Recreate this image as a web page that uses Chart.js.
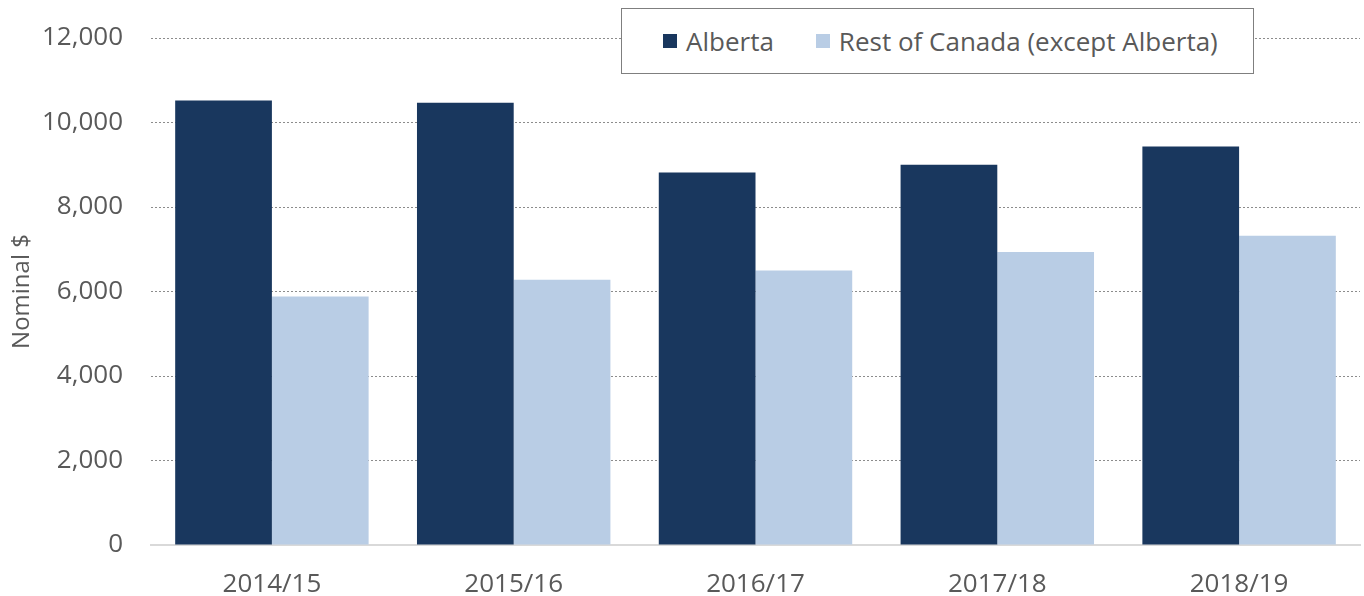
<!DOCTYPE html>
<html>
<head>
<meta charset="utf-8">
<script src="https://cdn.jsdelivr.net/npm/chart.js@4/dist/chart.umd.min.js"></script>
<style>
  html, body { margin: 0; padding: 0; background: #fff; }
  #wrap { position: relative; width: 1364px; height: 596px; }
  #legend {
    position: absolute; left: 621px; top: 8px; width: 633px; height: 66px;
    border: 1.5px solid #7f7f7f; background: #fff;
    font-family: "Open Sans", sans-serif; font-size: 26px; color: #595959;
    display: flex; align-items: center; box-sizing: border-box; padding-left: 41px;
    white-space: nowrap;
  }
  .item { display: flex; align-items: center; margin-right: 42px; }
  .sw { width: 14px; height: 14px; margin-right: 9px; flex: none; }
</style>
</head>
<body>
<div id="wrap">
  <canvas id="chart" width="1364" height="596"></canvas>
  <div id="legend"></div>
</div>
<script>
// Chart data
const years = ['2014/15', '2015/16', '2016/17', '2017/18', '2018/19'];
const alberta = [10520, 10470, 8815, 9000, 9430];
const restOfCanada = [5880, 6280, 6495, 6935, 7320];

const seriesNames = ['Alberta', 'Rest of Canada (except Alberta)'];
const seriesColors = ['#19375e', '#b9cde5'];

const textColor = '#595959';
const fontFamily = '"Open Sans", sans-serif';

// Build the legend by hand so it can sit over the plot like the original
const legend = document.getElementById('legend');
seriesNames.forEach((name, i) => {
    const item = document.createElement('div');
    item.className = 'item';
    const sw = document.createElement('div');
    sw.className = 'sw';
    sw.style.background = seriesColors[i];
    const label = document.createElement('span');
    label.textContent = name;
    item.appendChild(sw);
    item.appendChild(label);
    legend.appendChild(item);
});

const ctx = document.getElementById('chart').getContext('2d');
const chart = new Chart(ctx, {
    type: 'bar',
    data: {
        labels: years,
        datasets: [
            { label: seriesNames[0], data: alberta, backgroundColor: seriesColors[0] },
            { label: seriesNames[1], data: restOfCanada, backgroundColor: seriesColors[1] }
        ]
    },
    options: {
        responsive: false,
        animation: false,
        layout: { padding: { top: 38, right: 4, left: 0, bottom: 0 } },
        datasets: {
            bar: { categoryPercentage: 0.8, barPercentage: 1.0 }
        },
        plugins: {
            legend: { display: false },
            tooltip: { enabled: false }
        },
        scales: {
            x: {
                grid: { display: false },
                border: { color: '#d9d9d9', width: 2 },
                ticks: {
                    color: textColor,
                    padding: 16,
                    font: { family: fontFamily, size: 26 }
                },
                afterFit: (scale) => { scale.height = 51; }
            },
            y: {
                min: 0,
                max: 12000,
                border: { display: false, dash: [2, 2] },
                grid: {
                    drawTicks: false,
                    color: (c) => c.tick.value === 0 ? 'rgba(0,0,0,0)' : '#8c8c8c',
                    lineWidth: 1
                },
                ticks: {
                    stepSize: 2000,
                    color: textColor,
                    padding: 28,
                    font: { family: fontFamily, size: 26 },
                    callback: (v) => v.toLocaleString('en-US')
                },
                title: {
                    display: true,
                    text: 'Nominal $',
                    color: textColor,
                    padding: { top: 8, bottom: 0 },
                    font: { family: fontFamily, size: 24 }
                },
                afterFit: (scale) => {
                    scale.width = 151;
                    // let the top label hang into the layout padding
                    scale.paddingTop = 0;
                    scale.paddingBottom = 0;
                }
            }
        }
    }
});
</script>
</body>
</html>
